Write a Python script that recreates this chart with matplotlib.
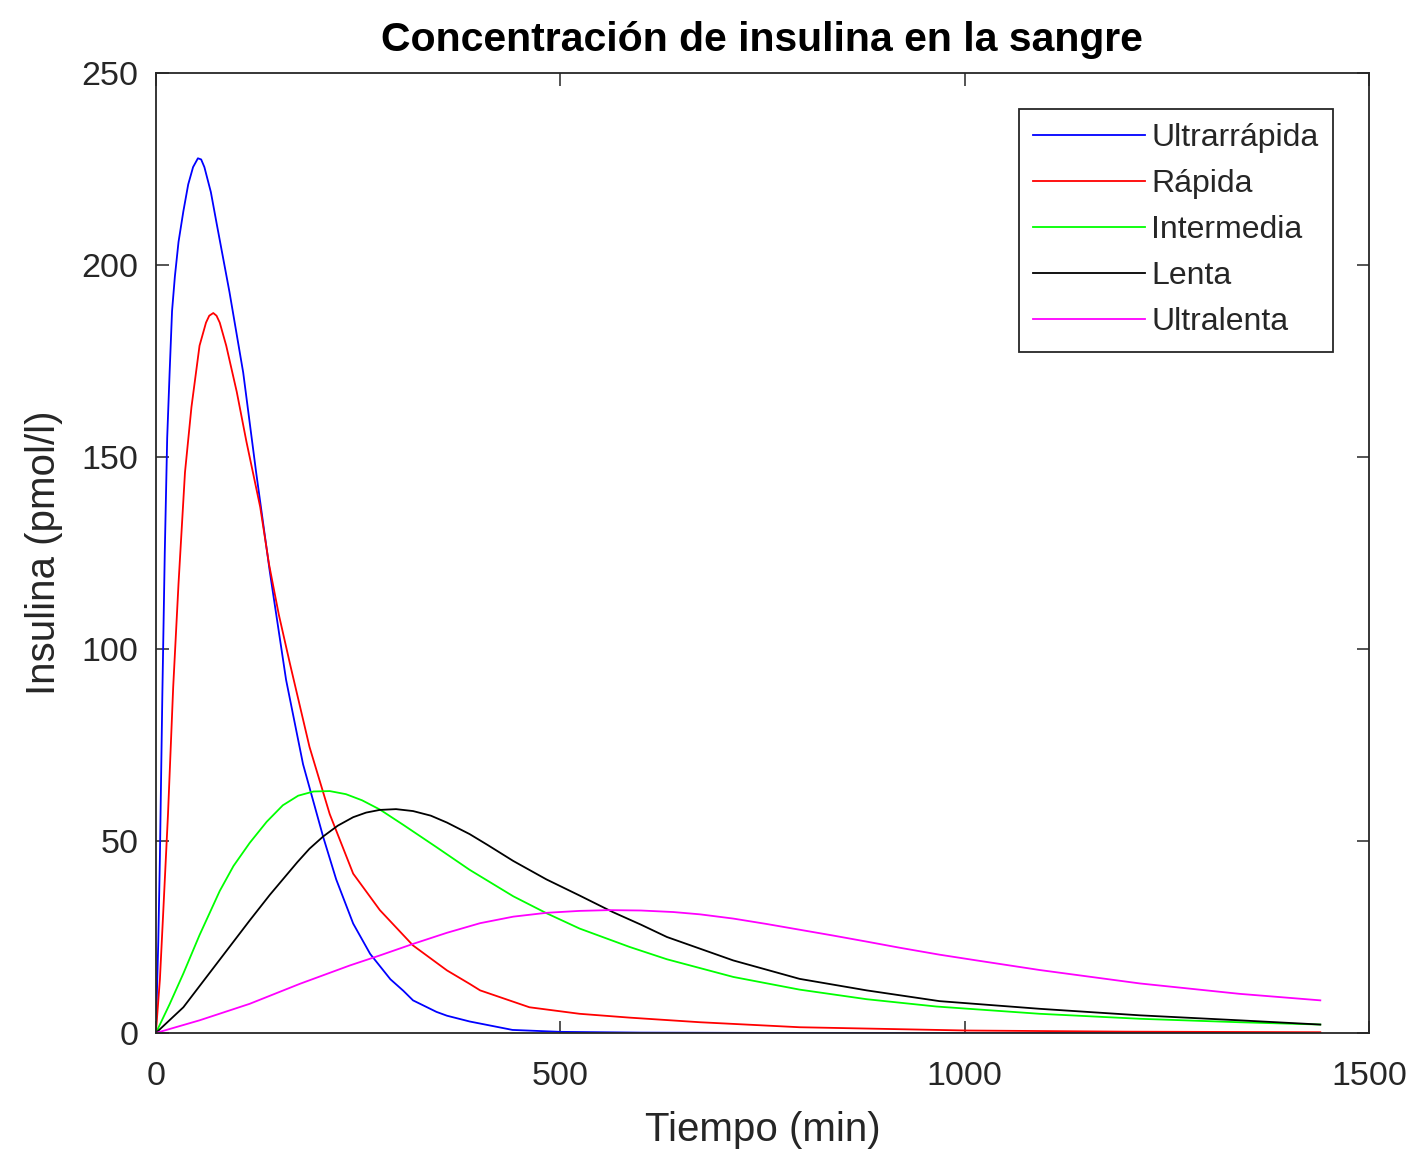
import numpy as np
import matplotlib
matplotlib.use("Agg")
import matplotlib.pyplot as plt

plt.rcParams['font.family'] = ['Liberation Sans', 'DejaVu Sans']

# tiempo (min) y concentración (pmol/l) de cada tipo de insulina
t_ultrarrapida = [0, 3, 5, 8, 11, 14, 17, 20, 23.5, 28, 34, 40, 46, 52, 56, 60, 68, 75,
                  83, 91, 108, 124, 141, 161, 182, 207, 223, 244, 265, 290, 306, 318,
                  347, 360, 388, 441, 500, 600, 800, 1440]
c_ultrarrapida = [0, 24, 46, 88, 125, 155, 172, 188, 197, 206, 214, 221, 225.5, 227.8,
                  227.5, 225.5, 219, 211, 202, 193, 172, 146, 120, 92, 70, 51, 40, 28.5,
                  20.6, 14, 11, 8.5, 5.5, 4.5, 3.0, 0.8, 0.3, 0.1, 0, 0]

t_rapida = [0, 5, 9, 15, 21.4, 28, 36, 44, 54, 62, 66, 71, 75, 79, 87, 100, 112, 129,
            140, 152, 166, 190, 215, 244, 277, 318, 360, 388, 401, 462, 524, 586, 673,
            796, 1002, 1200, 1440]
c_rapida = [0, 14, 31, 57, 90, 117, 146, 163, 179, 185, 186.8, 187.5, 186.8, 185, 179,
            167, 154, 137, 122, 109, 96, 74.5, 57, 41.5, 32, 22.8, 16.3, 12.8, 11.1, 6.7,
            5.0, 4.0, 2.8, 1.5, 0.65, 0.35, 0.2]

t_intermedia = [0, 17, 34, 54, 79, 96, 116, 137, 157, 176, 195, 215, 235, 255, 277, 306,
                347, 388, 442, 483, 524, 586, 632, 714, 796, 879, 965, 1093, 1217, 1340,
                1440]
c_intermedia = [0, 7.5, 15.5, 25.5, 37, 43.5, 49.5, 55, 59.3, 61.8, 62.9, 63.0, 62.2,
                60.6, 58.2, 54.2, 48.4, 42.5, 35.6, 31.2, 27.2, 22.4, 19.2, 14.6, 11.3,
                8.8, 6.9, 5.0, 3.7, 2.8, 2.2]

t_lenta = [0, 34, 75, 116, 141, 157, 175, 190, 207, 225, 244, 260, 277, 297, 318, 340,
           360, 388, 410, 442, 483, 524, 565, 600, 632, 714, 796, 879, 969, 1093, 1217,
           1340, 1440]
c_lenta = [0, 6.7, 18, 29.3, 36, 40, 44.5, 48, 51.2, 54, 56.2, 57.4, 58.1, 58.3, 57.8,
           56.6, 54.8, 51.8, 49, 44.8, 40, 35.8, 31.5, 28.2, 25, 18.9, 14.1, 11.1, 8.3,
           6.3, 4.6, 3.3, 2.2]

t_ultralenta = [0, 54, 116, 178, 240, 277, 318, 360, 401, 442, 483, 524, 560, 600, 640,
                673, 714, 755, 796, 837, 879, 920, 969, 1015, 1093, 1217, 1340, 1440]
c_ultralenta = [0, 3.3, 7.6, 12.8, 17.6, 20.2, 23.2, 26.1, 28.6, 30.3, 31.3, 31.8, 32,
                31.9, 31.5, 30.9, 29.8, 28.4, 26.9, 25.4, 23.8, 22.2, 20.4, 18.9, 16.4,
                12.9, 10.2, 8.5]

nombres = ['Ultrarrápida', 'Rápida', 'Intermedia', 'Lenta', 'Ultralenta']
colores = ['#0000ff', '#ff0000', '#00ff00', '#000000', '#ff00ff']
series = [(t_ultrarrapida, c_ultrarrapida), (t_rapida, c_rapida),
          (t_intermedia, c_intermedia), (t_lenta, c_lenta),
          (t_ultralenta, c_ultralenta)]

fig = plt.figure(figsize=(14.17, 11.52), dpi=100)
ax = fig.add_axes([0.110, 0.1033, 0.856, 0.8333])

for (t, c), nombre, color in zip(series, nombres, colores):
    ax.plot(t, c, color=color, lw=1.3, label=nombre)

ax.set_xlim(0, 1500)
ax.set_ylim(0, 250)
ax.set_xticks([0, 500, 1000, 1500])
ax.set_yticks([0, 50, 100, 150, 200, 250])

gris = '#262626'
for s in ax.spines.values():
    s.set_color(gris)
    s.set_linewidth(1.3)
ax.tick_params(direction='in', top=True, right=True, length=9, width=1.1,
               colors=gris, labelsize=24.5)
ax.tick_params(axis='x', pad=20)
ax.tick_params(axis='y', pad=12.5)

ax.set_xlabel('Tiempo (min)', fontsize=29, color=gris, labelpad=14)
ax.set_ylabel('Insulina (pmol/l)', fontsize=29, color=gris, labelpad=13)
ax.set_title('Concentración de insulina en la sangre', fontsize=29.5,
             fontweight='bold', color='black', pad=16)

leg = ax.legend(loc='upper right', bbox_to_anchor=(1 - 36 / 1213, 1 - 36 / 960),
                borderaxespad=0, fontsize=23, handlelength=3.5, handletextpad=0.2,
                labelspacing=0.5, borderpad=0.45, fancybox=False, framealpha=1,
                edgecolor=gris)
leg.get_frame().set_linewidth(1.3)
for txt in leg.get_texts():
    txt.set_color(gris)

fig.savefig('out.png', dpi=100)
